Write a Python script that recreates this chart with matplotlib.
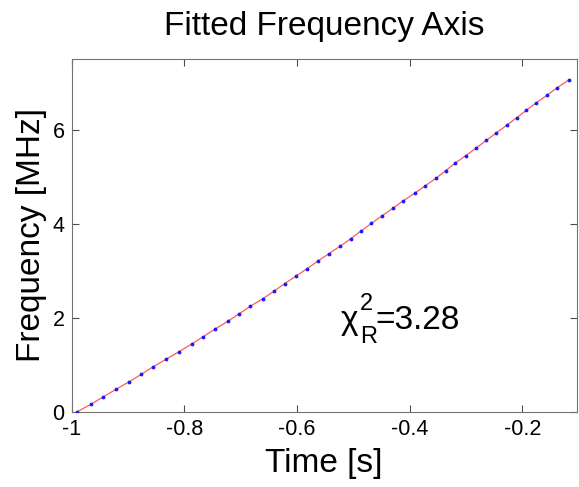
import matplotlib
matplotlib.use("Agg")
import matplotlib.pyplot as plt

plt.rcParams["font.family"] = ["Liberation Sans", "DejaVu Sans"]

# measured points: time [s] vs frequency [MHz]
time_s = [-0.991, -0.966, -0.944, -0.921, -0.898, -0.876, -0.855, -0.832, -0.809,
          -0.787, -0.766, -0.745, -0.723, -0.703, -0.683, -0.661, -0.641, -0.622,
          -0.602, -0.582, -0.563, -0.543, -0.523, -0.504, -0.486, -0.468, -0.449,
          -0.430, -0.411, -0.391, -0.372, -0.353, -0.336, -0.319, -0.300, -0.282,
          -0.264, -0.246, -0.228, -0.210, -0.193, -0.175, -0.156, -0.138, -0.118]
freq_mhz = [0.000, 0.160, 0.320, 0.481, 0.641, 0.801, 0.961, 1.122, 1.282,
            1.442, 1.602, 1.763, 1.923, 2.083, 2.243, 2.403, 2.564, 2.724,
            2.884, 3.044, 3.205, 3.365, 3.525, 3.685, 3.846, 4.006, 4.166,
            4.326, 4.487, 4.647, 4.807, 4.967, 5.127, 5.288, 5.448, 5.608,
            5.768, 5.929, 6.089, 6.249, 6.409, 6.570, 6.730, 6.890, 7.050]
chi2_r = 3.28

fig = plt.figure(figsize=(5.79, 4.87), dpi=100)
ax = fig.add_axes([0.1235, 0.154, 0.873, 0.725])

ax.plot(time_s, freq_mhz, color="#ff5a5a", lw=0.9, zorder=2)
ax.plot(time_s, freq_mhz, ls="none", marker=".", ms=3.5, color="#1a1aff", zorder=3)

ax.set_xlim(-1, -0.103)
ax.set_ylim(0, 7.5)
ax.set_xticks([-1, -0.8, -0.6, -0.4, -0.2])
ax.set_xticklabels(["-1", "-0.8", "-0.6", "-0.4", "-0.2"])
ax.set_yticks([0, 2, 4, 6])

for s in ax.spines.values():
    s.set_color("0.45")
    s.set_linewidth(0.8)
ax.tick_params(direction="in", length=5, width=0.8, color="0.3",
               top=True, right=True, labelsize=15.5, pad=5)

ax.set_title("Fitted Frequency Axis", fontsize=24, pad=17)
ax.set_xlabel("Time [s]", fontsize=24, labelpad=6)
ax.set_ylabel("Frequency [MHz]", fontsize=24, labelpad=4)

# chi^2_R label built from pieces, MATLAB-style sub/superscript spacing
ax.text(-0.523, 1.76, "\u03c7", fontsize=24, ha="left", va="baseline")
ax.annotate("2", (-0.523, 1.76), xytext=(14, 14), textcoords="offset points",
            fontsize=17, ha="left", va="baseline")
ax.annotate("R", (-0.523, 1.76), xytext=(14, -10), textcoords="offset points",
            fontsize=17, ha="left", va="baseline")
ax.annotate(f"={chi2_r:.2f}", (-0.523, 1.76), xytext=(25, 0), textcoords="offset points",
            fontsize=24, ha="left", va="baseline")

fig.savefig("out.png", dpi=100)
